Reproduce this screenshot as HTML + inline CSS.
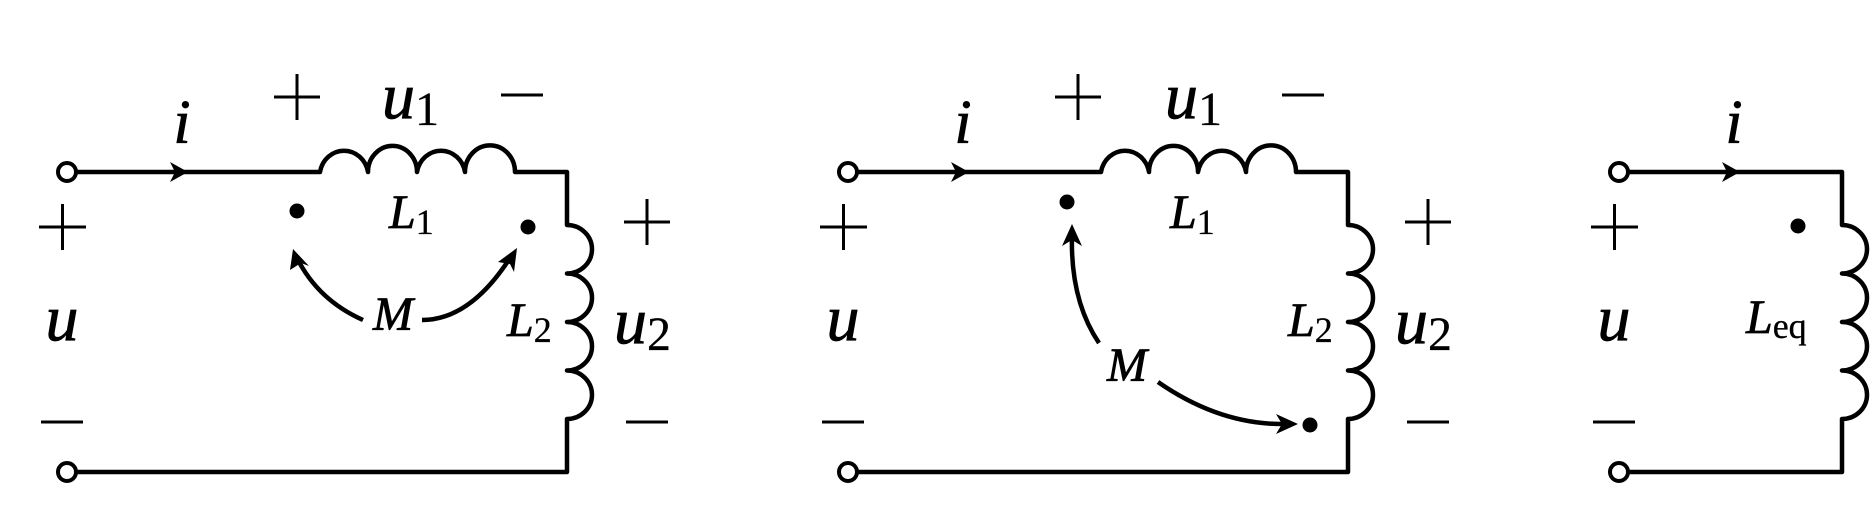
<!DOCTYPE html>
<html><head><meta charset="utf-8"><style>
html,body{margin:0;padding:0;background:#fff;}
svg{display:block;}
text{font-family:"Liberation Serif",serif;font-style:italic;fill:#000;stroke:#000;stroke-width:0.8;}
.up{font-style:normal;stroke-width:0.3;}
</style></head><body>
<svg width="1875" height="520" viewBox="0 0 1875 520" xmlns="http://www.w3.org/2000/svg">
<g fill="none" stroke="#000" stroke-width="4.5" stroke-linejoin="round">
<circle cx="67" cy="172" r="9" stroke-width="4"/>
<circle cx="67" cy="472" r="9" stroke-width="4"/>
<path d="M76 172 H320 A24.4 26 0 0 1 368 172 A24.4 26 0 0 1 417 172 A24.4 26 0 0 1 465 172 A24.4 26 0 0 1 515 172 H567 V225 A25 24.25 0 0 1 567 273.5 A25 24.25 0 0 1 567 322 A25 24.25 0 0 1 567 370.5 A25 24.25 0 0 1 567 419 V472 H76"/>
<circle cx="848" cy="172" r="9" stroke-width="4"/>
<circle cx="848" cy="472" r="9" stroke-width="4"/>
<path d="M857 172 H1101 A24.4 26 0 0 1 1149 172 A24.4 26 0 0 1 1198 172 A24.4 26 0 0 1 1246 172 A24.4 26 0 0 1 1296 172 H1348 V225 A25 24.25 0 0 1 1348 273.5 A25 24.25 0 0 1 1348 322 A25 24.25 0 0 1 1348 370.5 A25 24.25 0 0 1 1348 419 V472 H857"/>
<circle cx="1619" cy="172" r="9" stroke-width="4"/>
<circle cx="1619" cy="472" r="9" stroke-width="4"/>
<path d="M1628 172 H1842 V225 A25 24.25 0 0 1 1842 273.5 A25 24.25 0 0 1 1842 322 A25 24.25 0 0 1 1842 370.5 A25 24.25 0 0 1 1842 419 V472 H1628"/>
<path d="M363 320 Q318 300 297 258"/>
<path d="M422 320 Q470 320 510 258"/>
<path d="M1099 343 Q1070 300 1072 234"/>
<path d="M1158 382 Q1220 425 1285 424"/>
</g>
<g fill="#000">
<path d="M188 172 L170 162 L175 172 L170 182 Z"/>
<path d="M969 172 L951 162 L956 172 L951 182 Z"/>
<path d="M1740 172 L1722 162 L1727 172 L1722 182 Z"/>
<path d="M293 249 L309 266 L301 263 L290 270 Z"/>
<path d="M517 248 L514 272 L510 264 L498 262 Z"/>
<path d="M1072 224 L1082 246 L1072 240 L1062 246 Z"/>
<path d="M1298 424 L1276 434 L1282 424 L1276 414 Z"/>
<circle cx="297" cy="211" r="7.5"/>
<circle cx="528" cy="227" r="7.5"/>
<circle cx="1067" cy="202" r="7.5"/>
<circle cx="1310" cy="425" r="7.5"/>
<circle cx="1798" cy="226" r="7.5"/>
</g>
<g stroke="#000" stroke-width="3" fill="none">
<path d="M39 227 H86 M62.5 204 V250"/><path d="M41 422 H83"/>
<path d="M820 227 H867 M843.5 204 V250"/><path d="M822 422 H864"/>
<path d="M1591 227 H1638 M1614.5 204 V250"/><path d="M1593 422 H1635"/>
<path d="M274 97 H320 M297 74 V120"/><path d="M501 95 H543"/>
<path d="M1055 97 H1101 M1078 74 V120"/><path d="M1282 95 H1324"/>
<path d="M624 222 H670 M647 199 V245"/><path d="M626 422 H668"/>
<path d="M1405 222 H1451 M1428 199 V245"/><path d="M1407 422 H1449"/>
</g>
<g font-size="66">
<text x="62" y="340" text-anchor="middle">u</text>
<text x="843" y="340" text-anchor="middle">u</text>
<text x="1614" y="340" text-anchor="middle">u</text>
<text x="182" y="143" text-anchor="middle" font-size="62">i</text>
<text x="963" y="143" text-anchor="middle" font-size="62">i</text>
<text x="1734" y="143" text-anchor="middle" font-size="62">i</text>
<text x="382" y="118">u<tspan class="up" font-size="48" dy="7">1</tspan></text>
<text x="1165" y="118">u<tspan class="up" font-size="48" dy="7">1</tspan></text>
<text x="614" y="343">u<tspan class="up" font-size="48" dy="7">2</tspan></text>
<text x="1395" y="343">u<tspan class="up" font-size="48" dy="7">2</tspan></text>
</g>
<g font-size="48">
<text x="389" y="228">L<tspan class="up" font-size="36" dy="6">1</tspan></text>
<text x="1170" y="228">L<tspan class="up" font-size="36" dy="6">1</tspan></text>
<text x="507" y="336">L<tspan class="up" font-size="36" dy="6">2</tspan></text>
<text x="1288" y="336">L<tspan class="up" font-size="36" dy="6">2</tspan></text>
<text x="393" y="330" text-anchor="middle">M</text>
<text x="1127" y="381" text-anchor="middle">M</text>
<text x="1746" y="333">L<tspan class="up" font-size="36" dy="5">eq</tspan></text>
</g>
</svg>
</body></html>
